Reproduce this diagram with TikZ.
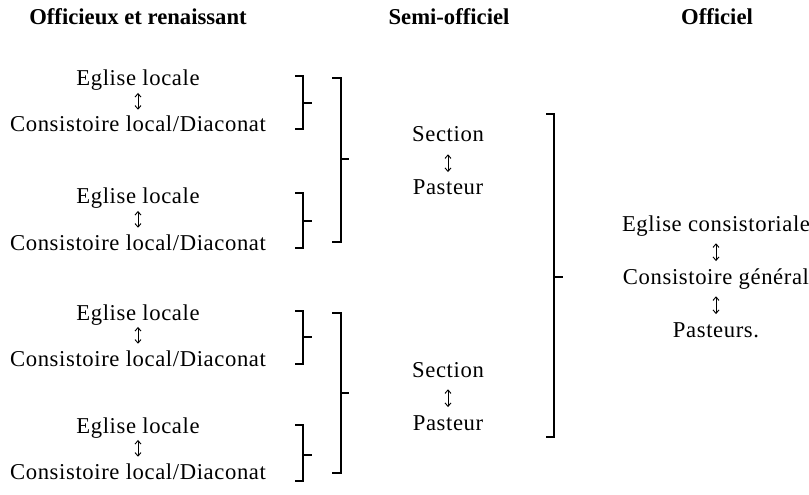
\documentclass[tikz,border=0pt]{standalone}
\usepackage{fontspec}
\setmainfont{Liberation Serif}
\newfontfamily\bodyfont[LetterSpace=2.7]{Liberation Serif}
\usetikzlibrary{arrows.meta}
\begin{document}
\begin{tikzpicture}[x=0.75pt,y=-0.75pt,
  txt/.style={inner sep=0pt,anchor=base,font=\bodyfont\fontsize{17}{20}\selectfont,text height=12pt,text depth=4pt},
  hdr/.style={inner sep=0pt,anchor=base,font=\fontsize{17}{20}\selectfont\bfseries},
  dbl/.style={{Straight Barb[length=2.6pt,width=4.5pt]}-{Straight Barb[length=2.6pt,width=4.5pt]},line width=0.7pt},
  dblL/.style={dbl,shorten <=1pt,shorten >=4.5pt},
  dblM/.style={dbl,shorten <=5pt,shorten >=5pt},
  brk/.style={line width=1.5pt,line join=miter,line cap=butt}]
\useasboundingbox (0,0) rectangle (809,495);

% headers
\node[hdr] (h1) at (138,25) {Officieux et renaissant};
\node[hdr] (h2) at (449,25) {Semi-officiel};
\node[hdr] (h3) at (717,25) {Officiel};

% left column
\node[txt] (e1) at (138,86) {Eglise locale};
\node[txt] (c1) at (138,132) {Consistoire local/Diaconat};
\node[txt] (e2) at (138,204) {Eglise locale};
\node[txt] (c2) at (138,250) {Consistoire local/Diaconat};
\node[txt] (e3) at (138,320) {Eglise locale};
\node[txt] (c3) at (138,366) {Consistoire local/Diaconat};
\node[txt] (e4) at (138,433) {Eglise locale};
\node[txt] (c4) at (138,479) {Consistoire local/Diaconat};
\foreach \i in {1,2,3,4} \draw[dblL] (e\i.south) -- (c\i.north);

% middle column
\node[txt] (s1) at (448,142) {Section};
\node[txt] (p1) at (448,195) {Pasteur};
\node[txt] (s2) at (448,377) {Section};
\node[txt] (p2) at (448,430) {Pasteur};
\draw[dblM] (s1.south) -- (p1.north);
\draw[dblM] (s2.south) -- (p2.north);

% right column
\node[txt] (r1) at (716,231) {Eglise consistoriale};
\node[txt] (r2) at (716,284) {Consistoire général};
\node[txt] (r3) at (716,337) {Pasteurs.};
\draw[dblM] (r1.south) -- (r2.north);
\draw[dblM] (r2.south) -- (r3.north);

% small brackets
\foreach \t/\b/\m in {76/129/103, 193/248/221, 311/364/337, 425/481/455}{
  \draw[brk] (295,\t) -- (303,\t) -- (303,\b) -- (295,\b);
  \draw[brk] (303,\m) -- (312,\m);
}
% big left brackets
\foreach \t/\b/\m in {78/242/159, 313/473/393}{
  \draw[brk] (332,\t) -- (341,\t) -- (341,\b) -- (332,\b);
  \draw[brk] (341,\m) -- (349,\m);
}
% big right bracket
\draw[brk] (546,114) -- (554,114) -- (554,437) -- (546,437);
\draw[brk] (554,277) -- (563,277);
\end{tikzpicture}
\end{document}
